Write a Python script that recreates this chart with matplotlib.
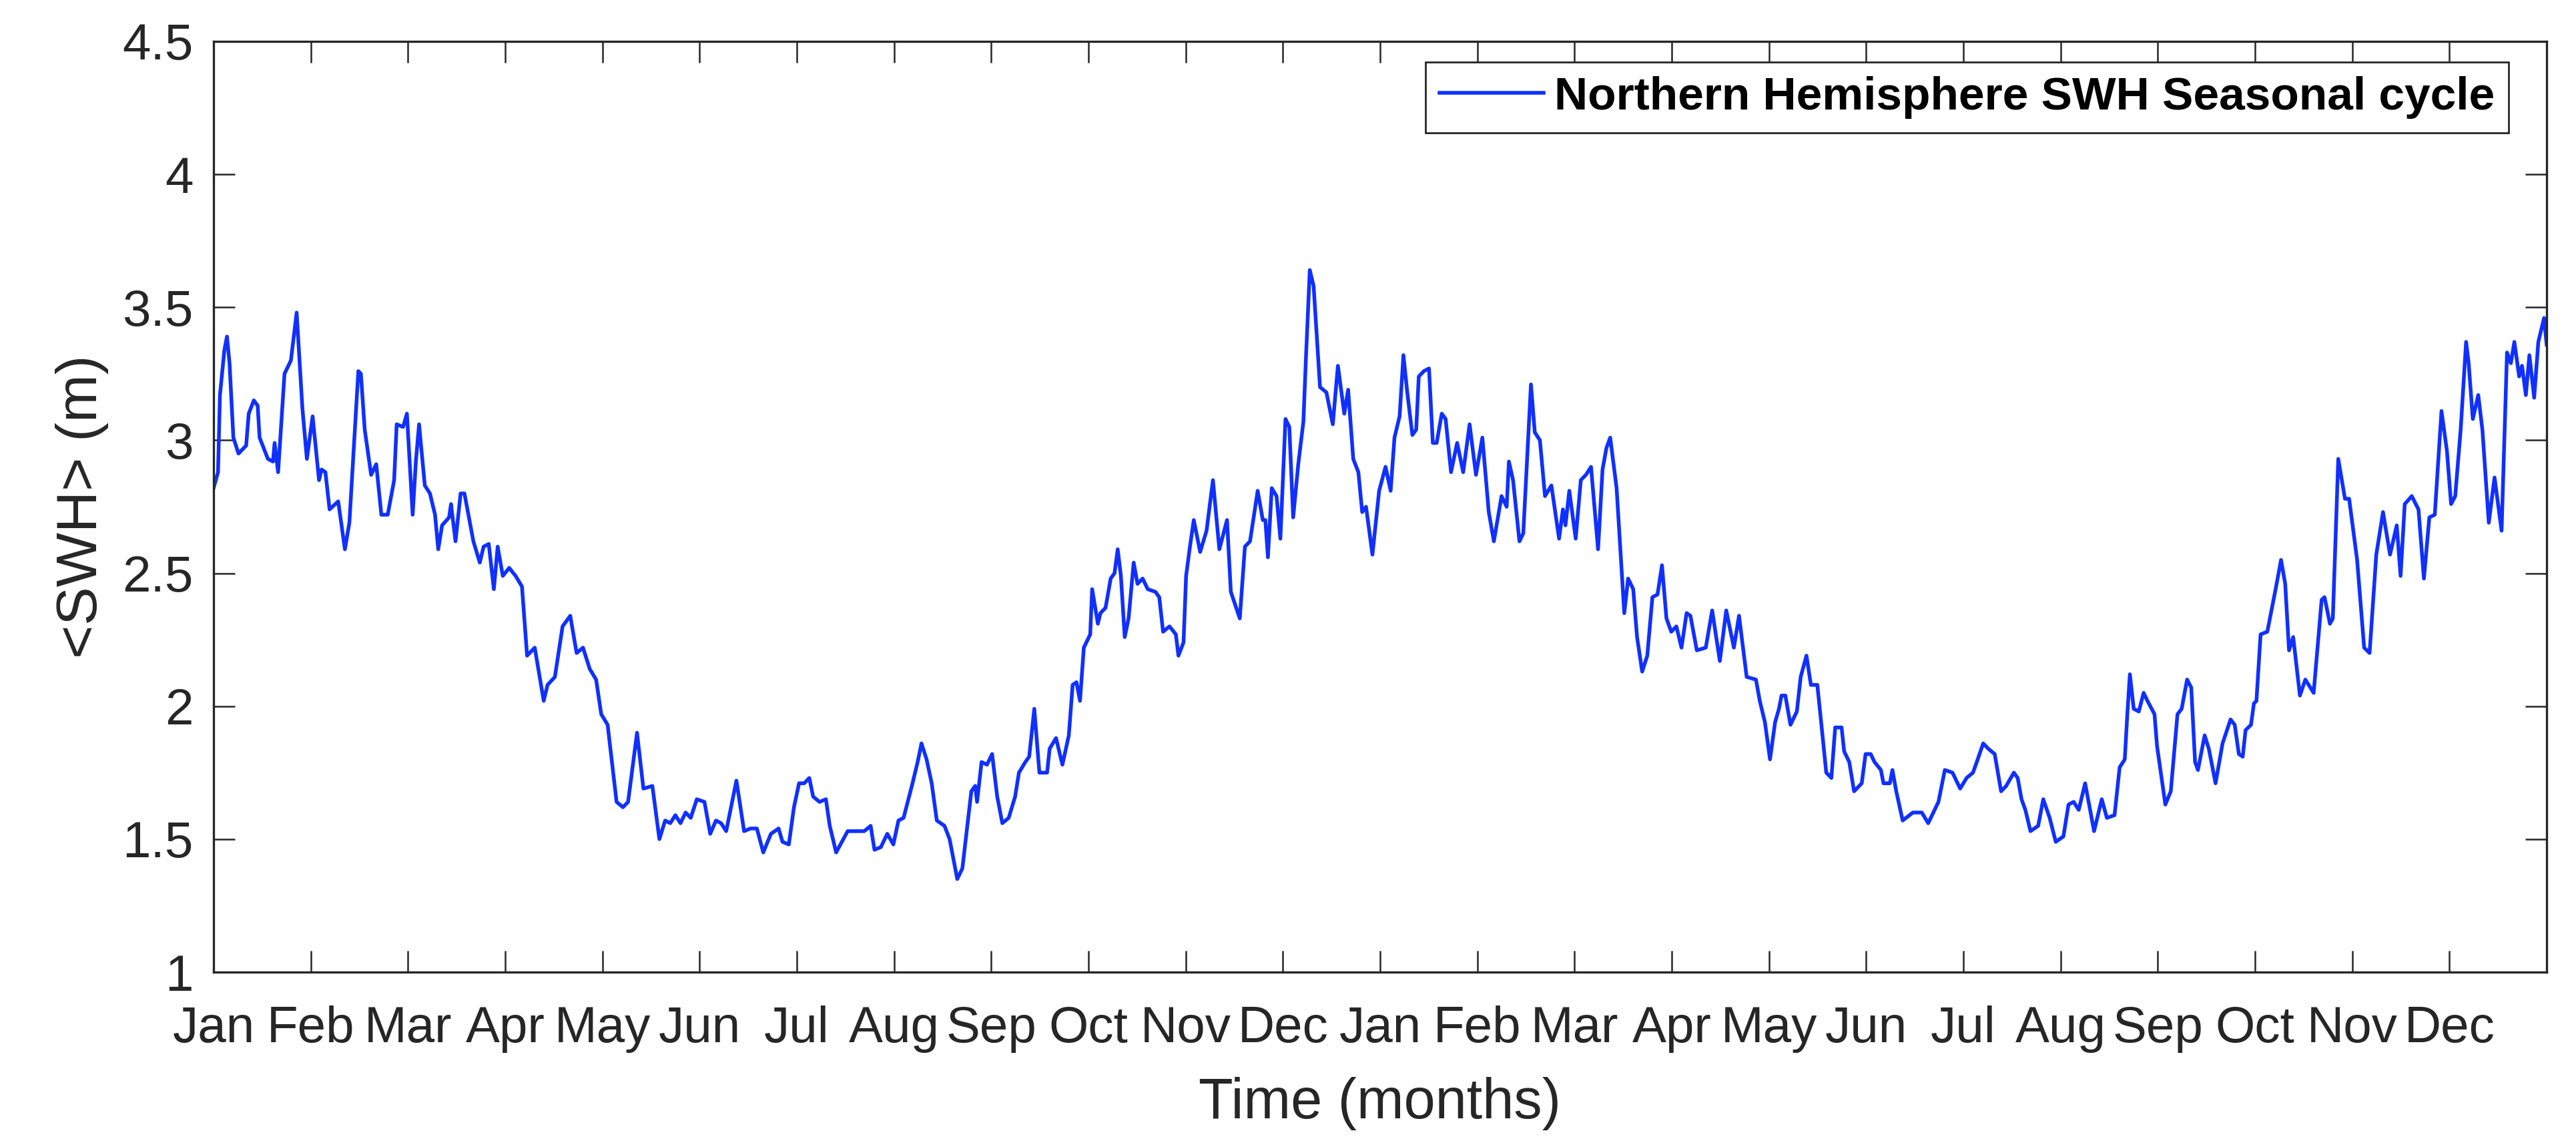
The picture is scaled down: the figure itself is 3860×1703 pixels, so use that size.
import numpy as np
import matplotlib
matplotlib.use("Agg")
import matplotlib.pyplot as plt

plt.rcParams["font.family"] = ["Liberation Sans", "DejaVu Sans"]

# day of the 2-year window (0..730) and the northern hemisphere mean SWH (m)
day = [
    0.0, 1.4, 2.0, 3.4, 4.2, 5.0, 6.2, 7.8, 10.2, 11.0, 12.6, 13.8, 14.4, 17.0, 18.6, 19.1, 20.2,
    22.2, 24.2, 26.0, 27.8, 29.2, 31.0, 33.0, 33.8, 35.0, 36.3, 39.0, 41.1, 42.5, 45.3, 46.1,
    47.3, 49.3, 50.9, 52.5, 54.5, 56.5, 57.3, 59.3, 60.5, 62.3, 63.3, 64.3, 66.1, 67.7, 69.3,
    70.3, 71.5, 73.7, 74.3, 75.7, 77.3, 78.5, 81.3, 83.3, 84.5, 86.1, 87.7, 88.9, 90.5, 92.5,
    94.5, 96.5, 98.1, 100.5, 103.3, 104.5, 106.8, 109.2, 111.6, 113.6, 115.6, 117.7, 119.7,
    121.3, 123.3, 126.1, 128.1, 129.7, 132.5, 134.5, 137.3, 139.5, 141.3, 142.9, 144.5, 146.1,
    147.7, 149.3, 151.2, 153.6, 155.4, 157.2, 158.8, 160.4, 163.6, 166.0, 168.0, 170.0, 172.0,
    174.4, 176.8, 178.0, 180.0, 181.6, 183.2, 184.8, 186.4, 187.6, 189.6, 191.6, 192.8, 194.8,
    198.4, 201.6, 203.6, 205.6, 206.8, 208.8, 210.8, 212.7, 214.3, 215.9, 218.7, 220.3, 221.5,
    223.1, 224.7, 226.3, 228.7, 230.3, 232.7, 234.3, 237.1, 238.3, 238.9, 240.3, 242.0, 243.6,
    245.2, 246.8, 248.8, 250.8, 252.0, 254.0, 255.2, 256.8, 258.4, 260.8, 261.6, 263.6, 265.6,
    267.6, 268.8, 270.0, 271.1, 272.3, 274.3, 274.9, 276.7, 277.5, 279.1, 280.7, 281.9, 282.9,
    283.9, 285.1, 286.3, 287.9, 289.1, 290.7, 292.3, 294.7, 295.9, 297.1, 299.1, 301.1, 301.9,
    303.5, 304.3, 305.5, 306.7, 308.7, 310.7, 312.7, 314.7, 317.1, 318.3, 321.1, 322.7, 324.3,
    326.7, 328.3, 329.1, 329.9, 331.1, 332.6, 333.8, 335.4, 336.6, 337.8, 339.4, 341.0, 341.8,
    343.0, 344.2, 346.2, 348.2, 350.2, 351.8, 353.8, 355.0, 356.6, 358.2, 359.4, 360.6, 362.6,
    364.7, 366.7, 368.3, 369.5, 371.1, 372.3, 373.5, 375.1, 376.3, 377.1, 378.7, 380.3, 381.5,
    382.7, 384.3, 385.5, 387.2, 389.1, 391.0, 393.0, 395.0, 397.0, 399.0, 400.6, 403.0, 404.6,
    405.3, 406.6, 408.6, 409.8, 412.2, 413.4, 415.0, 416.6, 418.6, 421.0, 422.2, 423.0, 424.2,
    426.2, 427.8, 429.4, 431.0, 432.2, 433.2, 434.6, 435.8, 437.0, 439.0, 441.4, 442.6, 444.2,
    445.4, 447.0, 448.6, 450.2, 451.8, 453.2, 454.6, 456.1, 457.7, 459.3, 460.9, 462.1, 464.1,
    466.9, 468.9, 471.3, 473.3, 475.7, 477.3, 479.7, 482.6, 483.8, 485.4, 487.0, 488.6, 489.8,
    490.6, 491.8, 493.4, 495.4, 496.6, 498.4, 499.8, 501.8, 503.0, 504.6, 506.2, 507.4, 509.4,
    510.2, 511.8, 513.3, 515.7, 516.9, 518.5, 519.7, 521.7, 522.5, 524.5, 525.3, 526.5, 528.5,
    531.7, 534.5, 536.5, 539.7, 541.7, 544.1, 546.5, 548.5, 550.5, 551.7, 553.7, 555.3, 557.3,
    559.3, 560.9, 563.3, 564.5, 565.7, 566.9, 568.5, 570.9, 572.5, 574.5, 576.4, 578.8, 580.4,
    582.0, 583.6, 585.6, 588.4, 590.8, 592.4, 594.8, 596.4, 598.0, 598.8, 599.6, 600.8, 602.4,
    603.9, 605.1, 607.3, 608.1, 610.7, 612.4, 614.5, 615.8, 617.5, 618.8, 620.0, 620.9, 623.0,
    624.3, 626.4, 628.6, 631.1, 632.4, 633.7, 634.9, 635.8, 637.5, 638.4, 639.2, 640.5, 642.6,
    643.9, 645.2, 646.9, 648.2, 649.4, 650.7, 652.8, 654.5, 657.1, 659.6, 660.5, 662.2, 663.1,
    664.8, 666.9, 668.2, 670.7, 672.9, 674.6, 676.7, 678.8, 681.0, 683.1, 684.3, 685.6, 687.8,
    689.9, 691.6, 693.3, 695.0, 697.1, 698.8, 700.1, 701.4, 703.1, 704.8, 705.6, 706.9, 708.6,
    709.9, 711.9, 713.7, 715.9, 717.6, 718.8, 719.9, 721.4, 722.3, 723.5, 724.6, 726.1, 727.4,
    729.2, 730.0,
]
swh = [
    2.82, 2.88, 3.17, 3.34, 3.39, 3.29, 3.01, 2.95, 2.98, 3.10, 3.15, 3.13, 3.01, 2.93, 2.92, 2.99, 2.88,
    3.25, 3.30, 3.48, 3.12, 2.93, 3.09, 2.85, 2.89, 2.88, 2.74, 2.77, 2.59, 2.69, 3.26, 3.25,
    3.04, 2.87, 2.91, 2.72, 2.72, 2.85, 3.06, 3.05, 3.10, 2.72, 2.92, 3.06, 2.83, 2.80, 2.72,
    2.59, 2.68, 2.71, 2.76, 2.62, 2.80, 2.80, 2.62, 2.54, 2.60, 2.61, 2.44, 2.60, 2.49, 2.52,
    2.49, 2.45, 2.19, 2.22, 2.02, 2.08, 2.11, 2.30, 2.34, 2.20, 2.22, 2.14, 2.10,
    1.97, 1.93, 1.64, 1.62, 1.64, 1.90, 1.69, 1.70, 1.50, 1.57, 1.56, 1.59, 1.56,
    1.60, 1.58, 1.65, 1.64, 1.52, 1.57, 1.56, 1.53, 1.72, 1.53, 1.54, 1.54, 1.45,
    1.52, 1.54, 1.49, 1.48, 1.62, 1.71, 1.71, 1.73, 1.66, 1.64, 1.65, 1.55, 1.45,
    1.53, 1.53, 1.53, 1.55, 1.46, 1.47, 1.52, 1.48, 1.57, 1.58, 1.71, 1.79, 1.86,
    1.80, 1.71, 1.57, 1.55, 1.50, 1.35, 1.39, 1.68, 1.70, 1.64, 1.79, 1.78, 1.82,
    1.66, 1.56, 1.58, 1.66, 1.75, 1.79, 1.81, 1.99, 1.75, 1.75, 1.84, 1.88, 1.78,
    1.89, 2.08, 2.09, 2.02, 2.22, 2.27, 2.44, 2.31, 2.35, 2.37, 2.48, 2.50, 2.59,
    2.49, 2.26, 2.33, 2.54, 2.46, 2.48, 2.44, 2.43, 2.41, 2.28, 2.30, 2.27, 2.19,
    2.24, 2.49, 2.60, 2.70, 2.58, 2.66, 2.85, 2.59, 2.70, 2.43, 2.33, 2.60, 2.62,
    2.81, 2.70, 2.70, 2.56, 2.82, 2.79, 2.63, 3.08, 3.05, 2.71, 2.91, 3.07, 3.31,
    3.64, 3.58, 3.20, 3.18, 3.06, 3.28, 3.10, 3.19, 2.93, 2.88, 2.73, 2.75, 2.57,
    2.81, 2.90, 2.81, 3.01, 3.09, 3.32, 3.18, 3.02, 3.04, 3.24, 3.26, 3.27, 2.99,
    2.99, 3.10, 3.08, 2.88, 2.99, 2.88, 3.06, 2.87, 3.01, 2.73, 2.62, 2.79, 2.75,
    2.92, 2.85, 2.62, 2.65, 3.21, 3.03, 3.00, 2.79, 2.83, 2.63, 2.74, 2.68, 2.81,
    2.63, 2.85, 2.87, 2.90, 2.73, 2.59, 2.89, 2.97, 3.01, 2.82, 2.35, 2.48, 2.44,
    2.26, 2.13, 2.19, 2.41, 2.42, 2.53, 2.33, 2.28, 2.30, 2.22, 2.35, 2.34, 2.21,
    2.22, 2.36, 2.17, 2.36, 2.22, 2.34, 2.11, 2.10, 2.02, 1.94, 1.80, 1.94, 1.99,
    2.04, 2.04, 1.93, 1.98, 2.11, 2.19, 2.08, 2.08, 1.94, 1.75, 1.73, 1.92, 1.92,
    1.83, 1.79, 1.68, 1.71, 1.82, 1.82, 1.79, 1.76, 1.71, 1.71, 1.76, 1.68, 1.57,
    1.60, 1.60, 1.56, 1.64, 1.76, 1.75, 1.69, 1.73, 1.75, 1.79, 1.86, 1.84, 1.82,
    1.68, 1.70, 1.75, 1.73, 1.65, 1.61, 1.53, 1.55, 1.65, 1.58, 1.49, 1.51, 1.63,
    1.64, 1.61, 1.71, 1.53, 1.65, 1.58, 1.59, 1.77, 1.80, 1.97, 2.12, 1.99, 1.98,
    2.05, 2.02, 1.97, 1.85, 1.63, 1.68, 1.97, 1.99, 2.10, 2.07, 1.79, 1.76, 1.89,
    1.84, 1.71, 1.86, 1.95, 1.93, 1.82, 1.81, 1.91, 1.93, 2.01, 2.02, 2.27, 2.28,
    2.36, 2.44, 2.55, 2.46, 2.21, 2.26, 2.04, 2.10, 2.05, 2.40, 2.41, 2.31, 2.33,
    2.93, 2.78, 2.78, 2.55, 2.22, 2.20, 2.57, 2.73, 2.57, 2.68, 2.49, 2.76, 2.79,
    2.74, 2.48, 2.71, 2.72, 3.11, 2.96, 2.76, 2.79, 3.04, 3.37, 3.29, 3.08, 3.17,
    3.04, 2.69, 2.86, 2.66, 3.33, 3.29, 3.37, 3.24, 3.28, 3.17, 3.32, 3.16, 3.37,
    3.46, 3.36,
]

month_names = ["Jan", "Feb", "Mar", "Apr", "May", "Jun",
               "Jul", "Aug", "Sep", "Oct", "Nov", "Dec"]
tick_labels = month_names * 2
y_ticks = [1, 1.5, 2, 2.5, 3, 3.5, 4, 4.5]

axis_col = "#262626"

fig = plt.figure(figsize=(38.6, 17.03), dpi=100)
ax = fig.add_axes([320 / 3860, 1 - 1456 / 1703, 3496 / 3860, 1394 / 1703])

ax.plot(day, swh, color="#1030ff", linewidth=4.0, solid_joinstyle="round",
        label="Northern Hemisphere SWH Seasonal cycle")

ax.set_xlim(0, 730)
ax.set_ylim(1, 4.5)
ax.set_xticks(np.arange(24) * 730 / 24)
ax.set_xticklabels(tick_labels)
ax.set_yticks(y_ticks)
ax.set_yticklabels([f"{v:g}" for v in y_ticks])

ax.tick_params(axis="both", direction="in", length=23, width=1.8, colors=axis_col,
               top=True, right=True, labelsize=55)
ax.tick_params(axis="x", pad=36)
ax.tick_params(axis="y", pad=22)
for s in ax.spines.values():
    s.set_linewidth(2.4)
    s.set_color(axis_col)

ax.set_xlabel("Time (months)", fontsize=61, color=axis_col)
ax.xaxis.label.set_va("top")
ax.xaxis.set_label_coords(0.5, -0.1127)
ax.set_ylabel("<SWH> (m)", fontsize=62, color=axis_col)
ax.yaxis.label.set_va("center")
ax.yaxis.set_label_coords(-0.0563, 0.5)

leg = ax.legend(loc="upper right", bbox_to_anchor=(0.9837, 0.9778), borderaxespad=0,
                fancybox=False, framealpha=1, edgecolor=axis_col,
                prop={"size": 50, "weight": "bold"},
                handlelength=2.25, handletextpad=0.23, borderpad=0.3)
leg.get_frame().set_linewidth(2.0)

fig.savefig("out.png", dpi=100, facecolor="white")
